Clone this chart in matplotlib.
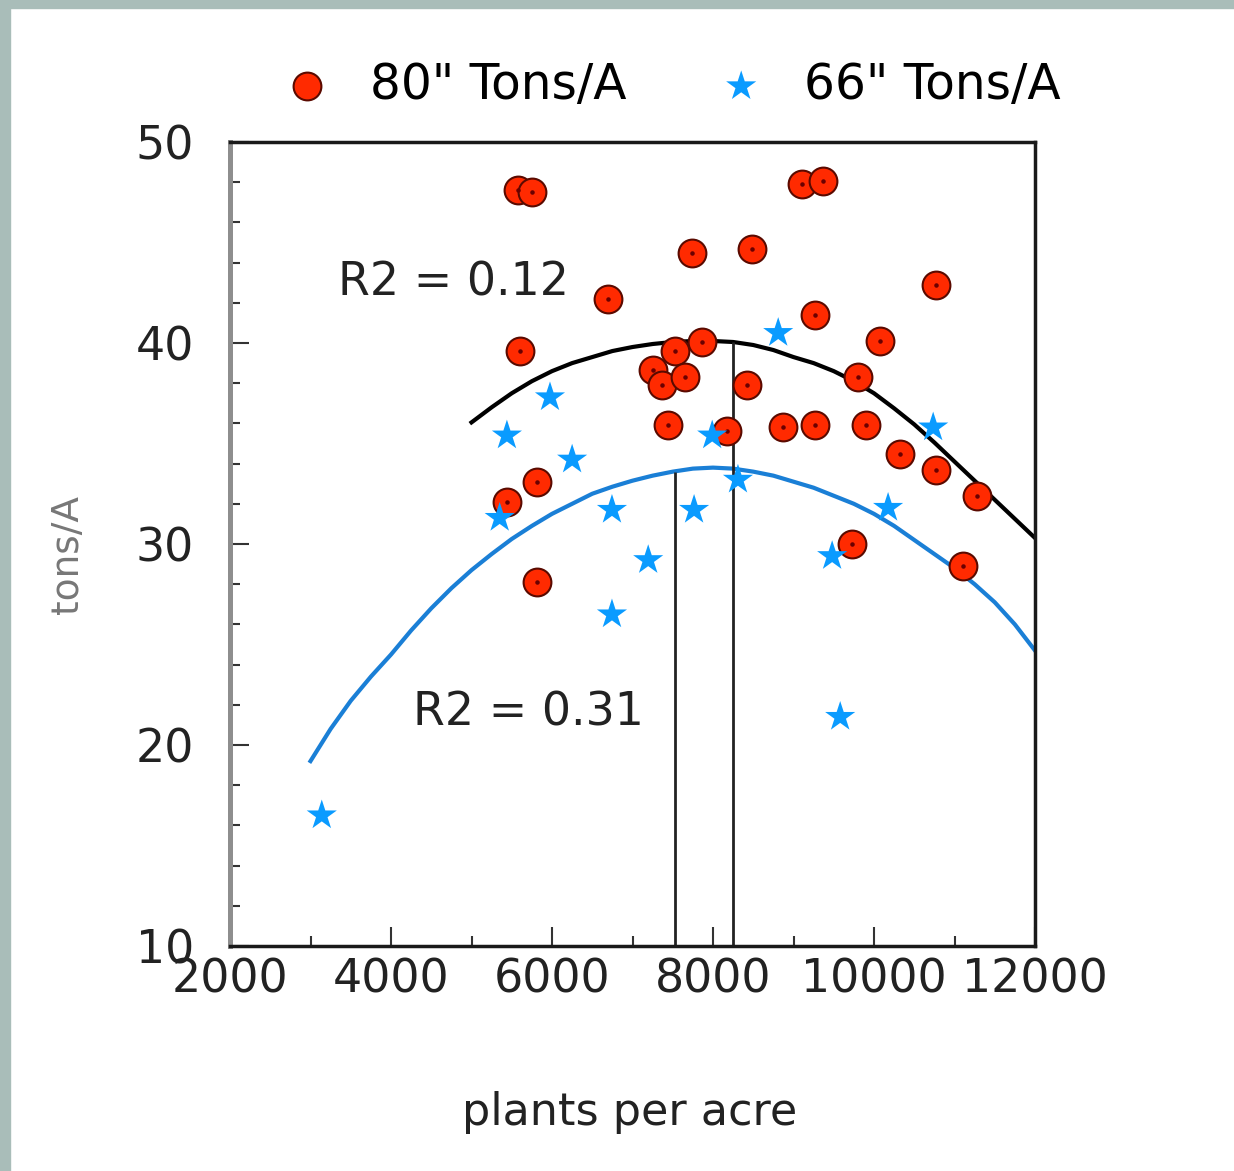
import numpy as np
import matplotlib.pyplot as plt
from matplotlib.patches import Rectangle

# 80" rows, tons/A
x80 = [5580, 5750, 9100, 9370, 7740, 8480, 6690, 10770, 9270, 5600,
       10080, 7860, 7530, 7260, 7370, 7650, 8420, 9800, 7440, 8180,
       8870, 9270, 9900, 10320, 10770, 11280, 5810, 5440, 9730, 11110, 5810]
y80 = [47.6, 47.5, 47.9, 48.05, 44.5, 44.7, 42.2, 42.9, 41.4, 39.6,
       40.1, 40.05, 39.6, 38.65, 37.9, 38.3, 37.9, 38.3, 35.9, 35.6,
       35.8, 35.9, 35.9, 34.5, 33.7, 32.4, 33.1, 32.1, 30.0, 28.9, 28.1]

# 66" rows, tons/A
x66 = [3140, 5350, 5440, 5975, 6250, 6745, 6745, 7195, 7765, 7990,
       8310, 8810, 9580, 9480, 10175, 10735]
y66 = [16.5, 31.3, 35.4, 37.3, 34.2, 31.7, 26.5, 29.2, 31.7, 35.4,
       33.2, 40.5, 21.4, 29.4, 31.8, 35.8]

# trend lines
fit_x80 = list(range(5000, 12001, 250))
fit_y80 = [36.05, 36.8, 37.5, 38.1, 38.6, 39.0, 39.3, 39.6, 39.8, 39.95,
           40.05, 40.1, 40.1, 40.05, 39.9, 39.65, 39.3, 39.0, 38.6, 38.1,
           37.5, 36.75, 35.95, 35.05, 34.1, 33.15, 32.2, 31.25, 30.3]
fit_x66 = list(range(3000, 12001, 250))
fit_y66 = [19.2, 20.8, 22.2, 23.4, 24.5, 25.7, 26.8, 27.8, 28.7, 29.5,
           30.25, 30.9, 31.5, 32.0, 32.5, 32.85, 33.15, 33.4, 33.6, 33.75,
           33.8, 33.75, 33.6, 33.4, 33.1, 32.8, 32.4, 32.0, 31.5, 30.9,
           30.2, 29.5, 28.8, 28.0, 27.1, 26.0, 24.7]

# vertical lines at the two optimum populations
peak_x = [7530, 8250]
peak_y = [33.6, 40.05]

fig = plt.figure(figsize=(12.34, 11.71), dpi=100)
fig.patches.append(Rectangle((0, 0), 10/1234, 1, transform=fig.transFigure,
                             color='#a9bdb9', zorder=0))
fig.patches.append(Rectangle((0, 1 - 8/1171), 1, 8/1171, transform=fig.transFigure,
                             color='#a9bdb9', zorder=0))

ax = fig.add_axes([230/1234, 1 - 946/1171, 805/1234, 804/1171])

ax.plot(fit_x80, fit_y80, color='black', lw=3, zorder=2)
ax.plot(fit_x66, fit_y66, color='#1a7fd6', lw=3, zorder=2)
ax.vlines(peak_x, 10, peak_y, color='#222222', lw=2, zorder=2)

h80 = ax.scatter(x80, y80, s=400, c='#ff2a00', edgecolors='#5a0a00',
                 linewidths=1.5, zorder=3, label='80" Tons/A')
ax.scatter(x80, y80, s=5, c='#6a0000', zorder=3)
h66 = ax.scatter(x66, y66, s=520, marker='*', c='#0a9bff', edgecolors='none',
                 zorder=4, label='66" Tons/A')

ax.set_xlim(2000, 12000)
ax.set_ylim(10, 50)
ax.set_xticks(np.arange(2000, 12001, 2000))
ax.set_xticks(np.arange(3000, 12000, 2000), minor=True)
ax.set_yticks([10, 20, 30, 40, 50])
ax.set_yticks(np.arange(12, 50, 2), minor=True)
ax.tick_params(which='both', direction='in', color='#333333', width=1.5,
               labelsize=33, labelcolor='#222222')
ax.tick_params(which='major', length=14)
ax.tick_params(which='minor', length=7)
ax.tick_params(axis='y', which='major', pad=26)
ax.tick_params(axis='x', which='major', pad=8)

for side in ['top', 'right', 'bottom']:
    ax.spines[side].set_linewidth(2.5)
    ax.spines[side].set_color('#1a1a1a')
ax.spines['left'].set_linewidth(3.6)
ax.spines['left'].set_color('#8e8e8e')

ax.text(3340, 43.0, 'R2 = 0.12', fontsize=33, color='#222222', va='center')
ax.text(4270, 21.6, 'R2 = 0.31', fontsize=33, color='#222222', va='center')

fig.text(630/1234, 1 - 1113/1171, 'plants per acre', fontsize=32,
         color='#222222', ha='center', va='center')
fig.text(68/1234, 1 - 555/1171, 'tons/A', fontsize=27, color='#777777',
         rotation=90, ha='center', va='center')

fig.legend(handles=[h80, h66], loc='center',
           bbox_to_anchor=(672/1234, 1 - 85/1171), ncol=2, frameon=False,
           fontsize=35, handlelength=1, handletextpad=0.8, columnspacing=1.85,
           scatterpoints=1)

fig.savefig('out.png', dpi=100)
